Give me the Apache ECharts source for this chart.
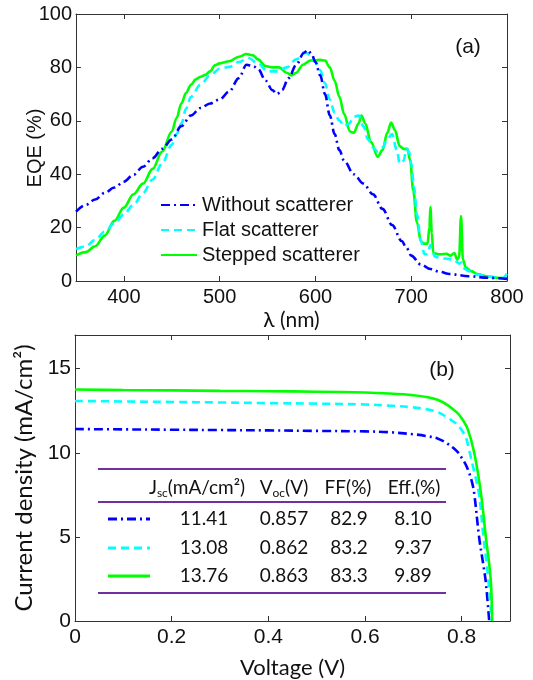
<!DOCTYPE html>
<html><head><meta charset="utf-8">
<script src="https://cdn.jsdelivr.net/npm/echarts@6/dist/echarts.min.js"></script>
<style>html,body{margin:0;padding:0;background:#fff}#c{width:533px;height:680px}</style>
</head><body><div id="c"></div>
<script>
// ---------- Panel (a): EQE spectra ----------
const wlWithout = [350,360,370,380,390,400,410,420,430,440,450,460,470,480,490,500,510,520,528,535,540,548,555,560,565,572,580,588,592,596,600,605,610,615,620,625,630,640,650,660,670,680,690,695,700,710,720,730,740,760,780,800];
const eqeWithout = [26,28.5,30.5,33,35,37.2,39.8,42.8,46,49.5,53,58,62,64.8,66.5,68,71,76,81,80.5,79.5,75,71.5,70,71.5,76,81,85.5,86.5,85,82,77,70,62,55,49,45,40,36.5,32.5,27,21,15,12.5,9.5,6.2,4.5,3.4,2.6,1.8,1.2,0.8];

const wlFlat = [350,360,370,380,390,400,410,420,430,440,450,455,460,465,470,480,490,500,510,520,530,540,550,560,570,580,590,595,600,605,610,615,620,625,630,635,640,645,650,655,660,665,670,675,680,685,688,692,695,698,700,703,706,710,714,717,720,722,725,735,745,748,750,753,756,760,770,780,790,796,800];
const eqeFlat = [12,13,15.4,18.5,21.6,25,28.5,33,38,44,51,55,59,64.5,69,73.5,77,79.5,80.2,82,83.5,81.5,78.5,78.5,80,83,85.5,84.5,82,79,74,68,63,60,58,59,61.5,62,58,53,50,48.5,50,53,55,49,44,45,49.5,48,44,35,25,15,10,10,13.5,11,9,8.4,8,7,6.5,7,4.5,3.7,2.3,1.7,1.3,1.2,2.8];

const wlStepped = [350,360,370,380,390,400,410,420,430,440,450,455,460,465,470,475,480,485,490,495,500,510,520,528,535,540,548,555,562,570,575,580,587,595,605,610,615,620,625,630,636,640,645,648,652,658,665,670,675,679,683,688,692,696,699,702,706,710,713,717,719,720,721.5,723,730,737,741,745,748,750,752,754,757,762,770,780,790,800];
const eqeStepped = [9.6,10.8,13,17,22.5,27.5,32.5,36.5,42,48.5,56,61,66.5,70.5,73.5,75.5,76.5,77.2,78.5,80.8,81.5,82.3,84,85,84.5,83,80.5,80,80,78,77,78,81,82.6,82.8,82.6,80,75,69,62.5,56,55.5,59,62,59,52,46.5,49,55.5,59.3,56.5,50.5,49.5,49.5,45,34,22,15,14,14,20,27.7,18,10.5,10,10.2,9.5,10.5,8,9,24.3,8,5,3.8,2.5,1.7,1.2,0.8];

const eqeTicks = [0,20,40,60,80,100];
const wlTicks = [400,500,600,700,800];

// ---------- Panel (b): J-V curves ----------
const vWithout = [0,0.1,0.2,0.3,0.4,0.5,0.6,0.65,0.7,0.73,0.75,0.77,0.79,0.8,0.81,0.82,0.826,0.836,0.845,0.85,0.857];
const jWithout = [11.41,11.39,11.37,11.35,11.33,11.3,11.27,11.22,11.1,10.98,10.85,10.55,10.1,9.7,9.2,8.4,7.57,5,3.3,2.3,0];
const vFlat = [0,0.1,0.2,0.3,0.4,0.5,0.6,0.65,0.7,0.73,0.75,0.77,0.79,0.8,0.81,0.815,0.825,0.836,0.845,0.855,0.862];
const jFlat = [13.08,13.05,13.02,12.99,12.95,12.92,12.87,12.8,12.7,12.57,12.42,12.1,11.7,11.35,10.8,10.2,9.0,7.5,5,2.5,0];
const vStepped = [0,0.1,0.2,0.3,0.4,0.5,0.6,0.65,0.7,0.73,0.75,0.77,0.79,0.8,0.812,0.826,0.84,0.85,0.86,0.863];
const jStepped = [13.76,13.73,13.71,13.68,13.66,13.63,13.58,13.52,13.42,13.3,13.15,12.85,12.4,12.05,11.45,10,7.57,5,2.5,0];

const jTicks = [0,5,10,15];
const vTicks = [0,0.2,0.4,0.6,0.8];

// ---------- Table in panel (b) ----------
const tableHeaders = ['{n|J}{s|sc}{n|(mA/cm²)}','{n|V}{s|oc}{n|(V)}','{n|FF(%)}','{n|Eff.(%)}'];
const jscValues = ['11.41','13.08','13.76'];
const vocValues = ['0.857','0.862','0.863'];
const ffValues = ['82.9','83.2','83.3'];
const effValues = ['8.10','9.37','9.89'];

const seriesNames = ['Without scatterer','Flat scatterer','Stepped scatterer'];
const colors = ['#0000ff','#00ffff','#00ff00'];
const dashes = [[9,4,2,4],[8,5],'solid'];

const pairs = (xs, ys) => xs.map((x,i)=>[x, ys[i]]);
const ARIAL = 'Liberation Sans';
const CAL = 'Lato';
const AX = '#333';

function boxAxis(pos, gridIndex, min, max, ticks, show) {
  return {
    type:'value', gridIndex, position:pos, min, max,
    axisLine:{show:true, onZero:false, lineStyle:{color:AX, width:1}},
    axisTick:{show:true, inside:true, length:5, customValues:ticks, lineStyle:{color:AX}},
    axisLabel:{show:show, customValues:ticks, color:'#111', fontFamily:ARIAL, fontSize:20, margin:6},
    splitLine:{show:false}
  };
}

const xA0 = boxAxis('bottom',0,350,800,wlTicks,true);
xA0.name = 'λ (nm)'; xA0.nameLocation='middle'; xA0.nameGap=29;
xA0.nameTextStyle = {fontFamily:CAL, fontSize:21, color:'#111'};
const xA1 = boxAxis('top',0,350,800,wlTicks,false);
const yA0 = boxAxis('left',0,0,100,eqeTicks,true);
yA0.axisLabel.margin = 4;
const yA1 = boxAxis('right',0,0,100,eqeTicks,false);

const xA2 = boxAxis('bottom',1,0,0.9,vTicks,true);
xA2.name='Voltage (V)'; xA2.nameLocation='middle'; xA2.nameGap=36;
xA2.nameTextStyle = {fontFamily:CAL, fontSize:22, color:'#111'};
xA2.axisLabel.fontSize = 21;
const xA3 = boxAxis('top',1,0,0.9,vTicks,false);
const yA2 = boxAxis('left',1,0,17,jTicks,true);
yA2.name='Current density (mA/cm²)'; yA2.nameLocation='middle'; yA2.nameGap=33;
yA2.nameTextStyle = {fontFamily:CAL, fontSize:24, color:'#111'};
yA2.axisLabel.fontSize = 21; yA2.axisLabel.margin = 4;
const yA3 = boxAxis('right',1,0,17,jTicks,false);

const topData = [pairs(wlWithout,eqeWithout), pairs(wlFlat,eqeFlat), pairs(wlStepped,eqeStepped)];
const botData = [pairs(vWithout,jWithout), pairs(vFlat,jFlat), pairs(vStepped,jStepped)];

const series = [];
for (let i=0;i<3;i++) {
  series.push({name:seriesNames[i], type:'line', xAxisIndex:0, yAxisIndex:0, data:topData[i],
    showSymbol:false, symbol:'none', smooth:0.35, smoothMonotone:'x', z:5-i,
    lineStyle:{color:colors[i], width:2.6, type:dashes[i]}, itemStyle:{color:colors[i]}});
}
for (let i=0;i<3;i++) {
  series.push({name:seriesNames[i]+' JV', type:'line', xAxisIndex:2, yAxisIndex:2, data:botData[i],
    showSymbol:false, symbol:'none', smooth:0.35, z:2+i,
    lineStyle:{color:colors[i], width:2.6, type:dashes[i]}});
}

// Table graphics
const rowY = [519,548,576];
const graphics = [];
[469,502,593].forEach(y => graphics.push({type:'line', shape:{x1:98,y1:y,x2:446,y2:y}, style:{stroke:'#7030a0', lineWidth:2}}));
const headX = [197,284,348,414];
tableHeaders.forEach((h,k) => graphics.push({type:'text', x:headX[k], y:488, style:{text:h, align:'center', verticalAlign:'middle', fill:'#111',
  rich:{n:{fontFamily:CAL, fontSize:19, lineHeight:22, verticalAlign:'middle', fill:'#111'}, s:{fontFamily:CAL, fontSize:12, lineHeight:12, verticalAlign:'bottom', fill:'#111'}}}}));
const cols = [jscValues, vocValues, ffValues, effValues];
const valX = [204,284,349,413];
for (let r=0;r<3;r++) {
  graphics.push({type:'line', shape:{x1:108,y1:rowY[r],x2:150,y2:rowY[r]}, style:{stroke:colors[r], lineWidth:3, lineDash: dashes[r]==='solid'?null:dashes[r]}});
  for (let k=0;k<4;k++) graphics.push({type:'text', x:valX[k], y:rowY[r], style:{text:cols[k][r], align:'center', verticalAlign:'middle', fill:'#111', fontFamily:CAL, fontSize:19}});
}
graphics.push({type:'text', x:35, y:148, rotation:Math.PI/2, style:{text:'EQE (%)', align:'center', verticalAlign:'middle', fill:'#111', fontFamily:ARIAL, fontSize:20}});
graphics.push({type:'text', x:468, y:47, style:{text:'(a)', align:'center', verticalAlign:'middle', fill:'#111', fontFamily:ARIAL, fontSize:21}});
graphics.push({type:'text', x:442, y:370, style:{text:'(b)', align:'center', verticalAlign:'middle', fill:'#111', fontFamily:ARIAL, fontSize:21}});

const chart = echarts.init(document.getElementById('c'), null, {renderer:'canvas'});
chart.setOption({
  backgroundColor:'#fff',
  animation:false,
  grid:[{left:76, top:14, width:431, height:267}, {left:75, top:335, width:435, height:291}],
  xAxis:[xA0,xA1,xA2,xA3],
  yAxis:[yA0,yA1,yA2,yA3],
  legend:{data:seriesNames, orient:'vertical', left:155, top:190, itemWidth:36, itemHeight:14, itemGap:5,
    itemStyle:{opacity:0, borderWidth:0},
    textStyle:{fontFamily:ARIAL, fontSize:20, color:'#111', lineHeight:20}, selectedMode:false},
  series,
  graphic:graphics
});
</script></body></html>
